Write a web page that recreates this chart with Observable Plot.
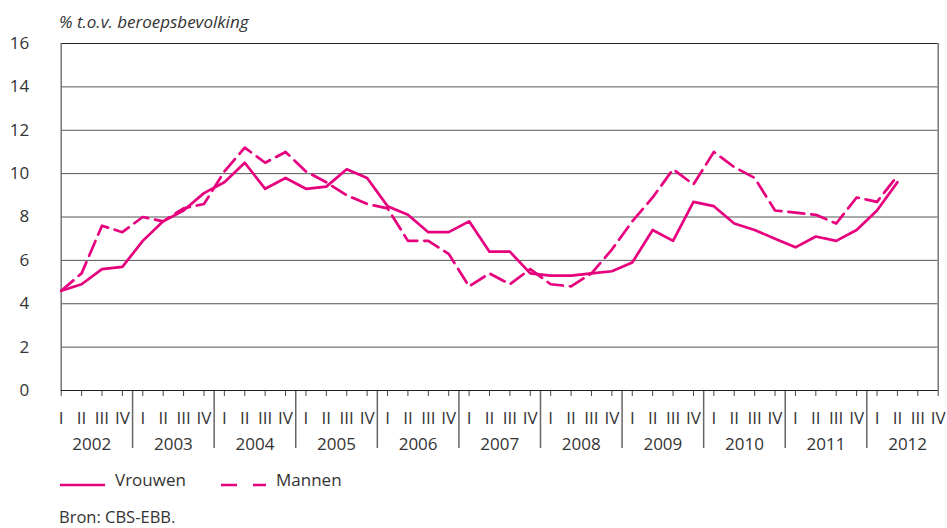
<!DOCTYPE html>
<html>
<head>
<meta charset="utf-8">
<script src="https://cdn.jsdelivr.net/npm/d3@7"></script>
<script src="https://cdn.jsdelivr.net/npm/@observablehq/plot@0.6"></script>
<style>
  body { margin: 0; background: #fff; }
  #wrap { position: relative; width: 947px; height: 528px; font-family: 'Open Sans', sans-serif; color: #333; overflow: hidden; }
  #wrap svg { position: absolute; left: 0; top: 0; }
  .title { position: absolute; left: 59px; top: 10px; font-size: 17px; font-style: italic; color: #333; }
  .src { position: absolute; left: 59px; top: 509px; font-size: 16.5px; line-height: 16.5px; color: #333; }
</style>
</head>
<body>
<div id="wrap">
  <div class="title">% t.o.v. beroepsbevolking</div>
  <svg class="legend" width="400" height="30" style="top:468px">
    <line x1="60" x2="105" y1="17" y2="17" stroke="#e6007e" stroke-width="2.7"/>
    <text x="115" y="18" font-size="17" fill="#333" font-family="Open Sans, sans-serif">Vrouwen</text>
    <line x1="221" x2="266" y1="17" y2="17" stroke="#e6007e" stroke-width="2.7" stroke-dasharray="16,16"/>
    <text x="276" y="18" font-size="17" fill="#333" font-family="Open Sans, sans-serif">Mannen</text>
  </svg>
  <div class="src">Bron: CBS-EBB.</div>
</div>
<script>
const quarterLabels = ["I", "II", "III", "IV"];
const years = [2002, 2003, 2004, 2005, 2006, 2007, 2008, 2009, 2010, 2011, 2012];
const yTicks = [0, 2, 4, 6, 8, 10, 12, 14, 16];
const vrouwen = [4.6,4.9,5.6,5.7,6.9,7.8,8.3,9.1,9.6,10.5,9.3,9.8,9.3,9.4,10.2,9.8,8.5,8.1,7.3,7.3,7.8,6.4,6.4,5.4,5.3,5.3,5.4,5.5,5.9,7.4,6.9,8.7,8.5,7.7,7.4,7.0,6.6,7.1,6.9,7.4,8.3,9.6];
const mannen = [4.6,5.4,7.6,7.3,8.0,7.8,8.4,8.6,10.1,11.2,10.5,11.0,10.1,9.6,9.0,8.6,8.4,6.9,6.9,6.3,4.8,5.4,4.9,5.6,4.9,4.8,5.4,6.5,7.8,8.9,10.2,9.5,11.0,10.3,9.8,8.3,8.2,8.1,7.7,8.9,8.7,9.9];

const nQ = years.length * 4;
const quarterIdx = d3.range(nQ);
const separators = d3.range(1, years.length).map(k => k * 4 - 0.5);
const yearCenters = years.map((y, k) => k * 4 + 1.5);
const rowsV = vrouwen.map((v, i) => ({i, v}));
const rowsM = mannen.map((v, i) => ({i, v}));
const pink = "#e6007e";

const chart = Plot.plot({
  width: 947,
  height: 528,
  marginLeft: 60.7,
  marginRight: 9.3,
  marginTop: 43,
  marginBottom: 138,
  x: {domain: [0, nQ - 1], axis: null},
  y: {domain: [0, 16], axis: null},
  style: {fontFamily: "'Open Sans', sans-serif", fontSize: "17px", color: "#333", background: "transparent"},
  marks: [
    Plot.ruleY(yTicks.filter(d => d > 0 && d < 16), {stroke: "#555", strokeWidth: 1}),
    Plot.ruleY([16], {stroke: "#222", strokeWidth: 1.2}),
    Plot.ruleX([0], {stroke: "#777", strokeWidth: 1.5}),
    Plot.ruleX([nQ - 1], {stroke: "#777", strokeWidth: 1.5}),
    Plot.axisY({ticks: yTicks, label: null, tickSize: 0, tickPadding: 32, fontSize: 17, tickFormat: d => String(d)}),
    Plot.axisX({ticks: quarterIdx, label: null, tickSize: 6, tickPadding: 15, fontSize: 17, tickFormat: i => quarterLabels[i % 4], stroke: "#444"}),
    Plot.axisX({ticks: separators, label: null, tickSize: 58, tickFormat: () => "", stroke: "#666", strokeWidth: 1.5}),
    Plot.axisX({ticks: yearCenters, label: null, tickSize: 0, tickPadding: 47, fontSize: 17, tickFormat: d => String(years[Math.round((d - 1.5) / 4)])}),
    Plot.ruleY([0], {stroke: "#222", strokeWidth: 1.2}),
    Plot.line(rowsM, {x: "i", y: "v", stroke: pink, strokeWidth: 2.7, strokeDasharray: "16,7"}),
    Plot.line(rowsV, {x: "i", y: "v", stroke: pink, strokeWidth: 2.7})
  ]
});
document.getElementById("wrap").prepend(chart);
</script>
</body>
</html>
